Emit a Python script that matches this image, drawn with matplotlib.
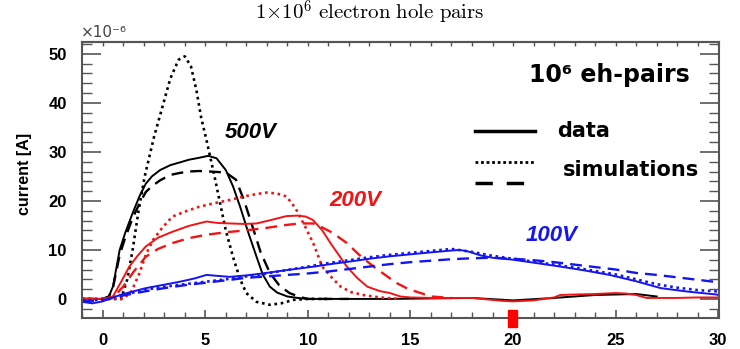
import matplotlib
matplotlib.use("Agg")
import matplotlib.pyplot as plt
from matplotlib.ticker import MultipleLocator
from matplotlib.patches import Rectangle

plt.rcParams['mathtext.fontset'] = 'cm'

# ---------------- data (time in ns, current in 1e-6 A) ----------------
# 500 V
b_data_x = [-1, 0, 0.3, 0.5, 0.83, 1.1, 1.46, 1.8, 2.1, 2.4, 2.8, 3.3, 3.8, 4.2, 4.7, 5.15, 5.55,
            6.0, 6.35, 6.7, 7.1, 7.5, 7.8, 8.15, 8.5, 9.0, 9.5, 10, 12, 14, 16, 18, 20, 22, 24, 26, 27]
b_data_y = [0, 0, 0.5, 2.5, 10, 13.5, 17.5, 21, 23.5, 25, 26.3, 27.3, 27.9, 28.4, 28.8, 29.2, 28.7,
            26.3, 23, 18.8, 13.5, 8.6, 5, 2.5, 1.3, 0.5, 0.2, 0, 0, 0, 0.1, 0.2, -0.3, 0.2, 0.8, 1.0, 0.5]
b_dash_x = [-1, 0, 0.3, 0.5, 0.83, 1.1, 1.46, 1.8, 2.1, 2.4, 2.8, 3.3, 3.75, 4.2, 4.7, 5.2, 5.6,
            6.0, 6.5, 6.9, 7.3, 7.7, 8.15, 8.6, 9.1, 9.6, 10, 11, 12]
b_dash_y = [0, 0, 0.5, 2.2, 9, 12.5, 16.5, 19.5, 21.8, 23, 24.2, 25.3, 25.7, 26, 26.1, 26, 25.9,
            25.8, 24.3, 20, 14.8, 9.5, 5.3, 2.8, 1.2, 0.4, 0, 0, 0]
b_sim_x = [-1, 0, 0.5, 0.9, 1.2, 1.46, 1.75, 2.05, 2.5, 2.9, 3.3, 3.7, 4.0, 4.3, 4.57, 4.8, 5.06,
           5.4, 5.7, 6.0, 6.35, 6.7, 7.0, 7.5, 8.15, 8.7, 9.3, 10, 11]
b_sim_y = [0, 0, 0, 0, 4, 10, 18, 25, 33, 39, 45, 48.8, 49.5, 47.5, 42.6, 37, 32.4,
           26, 20, 14, 8.6, 4, 1.2, -0.6, -1.2, -0.9, -0.2, 0, 0]

# 200 V
r_data_x = [-1, 0, 0.5, 0.9, 1.3, 1.7, 2.1, 2.7, 3.4, 4.2, 5.06, 5.6, 6.2, 6.9, 7.5, 8.2, 8.96, 9.5,
            9.9, 10.25, 10.7, 11.1, 11.5, 11.9, 12.4, 12.9, 13.5, 14, 14.5, 15, 16, 17, 18, 19, 19.5,
            20, 21, 22, 22.3, 23, 24, 25, 25.5, 26, 26.5, 27, 28, 29, 30]
r_data_y = [0, 0, 0.5, 3.5, 6.6, 8.8, 10.7, 12.5, 13.7, 14.9, 15.8, 15.5, 15.4, 15.3, 15.4, 16.1, 16.9, 17.0,
            16.8, 16.1, 14, 11.4, 9, 6.6, 4.3, 2.5, 1.6, 1.2, 0.5, 0.3, 0.2, 0.2, 0.2, -0.2, -0.4,
            -0.5, -0.3, 0.3, 0.8, 0.9, 1.0, 1.2, 1.1, 0.8, 0.2, 0.2, 0.2, 0.3, 0.3]
r_dash_x = [-1, 0, 0.5, 1.0, 1.5, 2.1, 2.7, 3.4, 4.2, 5.06, 6, 7, 8, 8.96, 9.6, 10.25, 10.6, 11.2,
            11.9, 12.5, 13.2, 13.8, 14.3, 14.9, 15.5, 16, 17]
r_dash_y = [0, 0, 0.3, 2.5, 5.5, 8.6, 10.2, 11.4, 12.4, 13.1, 13.6, 14, 14.5, 15.1, 15.4, 15.4, 14.8, 13.5,
            11.4, 9, 6.6, 4.8, 3.3, 2, 1.2, 0.5, 0.2]
r_sim_x = [-1, 0, 1.0, 1.4, 1.8, 2.1, 2.45, 2.9, 3.4, 4.0, 4.7, 5.4, 6.2, 7.0, 7.5, 8.0, 8.5, 8.96,
           9.4, 9.9, 10.3, 10.7, 11.2, 11.6, 12.1, 12.7, 13.5, 14.5]
r_sim_y = [0, 0, 0, 1.5, 5.3, 9, 12, 14.5, 16.8, 17.8, 18.8, 19.5, 20.2, 21, 21.4, 21.7, 21.5, 20.9,
           18.5, 14.5, 11, 6.6, 4.2, 2.5, 1.4, 0.8, 0.3, 0]

# 100 V
u_data_x = [-1, -0.5, 0, 0.5, 1, 2.1, 3, 3.75, 4.5, 5.06, 5.6, 6.2, 7, 7.8, 9, 10.3, 11.1, 12, 13, 14,
            15, 16, 16.8, 17.4, 17.8, 18.4, 19, 20, 21, 22.3, 23.5, 24.7, 26, 27.2, 28.5, 29.9, 30]
u_data_y = [-0.6, -0.9, -0.5, 0.3, 1, 2.2, 2.9, 3.5, 4.2, 4.9, 4.7, 4.5, 4.8, 5.2, 5.9, 6.6, 7.1, 7.6, 8.2, 8.7,
            9.1, 9.5, 9.8, 10, 9.7, 8.9, 8.4, 8, 7.4, 6.6, 5.8, 4.9, 3.6, 2.2, 1.5, 0.9, 0.8]
u_dash_x = [-1, 0, 1, 2, 3, 4, 5, 6, 7, 8, 9, 10, 11, 12, 13, 14, 15, 16, 17, 18, 19, 20, 21, 22, 23,
            24, 25, 26, 27, 28, 29, 30]
u_dash_y = [-0.5, -0.3, 0.7, 1.5, 2.2, 2.8, 3.3, 3.8, 4.3, 4.6, 4.9, 5.2, 5.6, 6.1, 6.6, 7.1, 7.5, 7.8,
            8.1, 8.3, 8.4, 8.2, 7.9, 7.5, 7.0, 6.5, 6.0, 5.3, 4.9, 4.4, 3.9, 3.4]
u_sim_x = [-1, 0, 1, 2, 3, 4, 5, 6, 7, 8, 9, 10, 11, 12, 13, 14, 15, 16, 17, 18, 19, 20, 21, 22, 23,
           24, 25, 26, 27, 28, 29, 30]
u_sim_y = [-0.3, -0.2, 0.8, 1.8, 2.5, 3.0, 3.5, 4.0, 4.6, 5.2, 5.9, 6.6, 7.3, 7.9, 8.5, 9.0, 9.4, 9.8,
           10.2, 9.6, 8.8, 8.2, 7.6, 7.0, 6.4, 5.7, 5.0, 4.0, 3.0, 2.3, 1.8, 1.5]

x_ticks = [0, 5, 10, 15, 20, 25, 30]
y_ticks = [0, 10, 20, 30, 40, 50]
voltage_labels = ["500V", "200V", "100V"]
marker_x = 20  # red marker position on the time axis

# ---------------- figure ----------------
fig = plt.figure(figsize=(7.4, 3.49), dpi=100)
ax = fig.add_axes([0.111, 0.089, 0.861, 0.791])

BLACK, RED, BLUE = '#000000', '#f01515', '#1515f0'
solid = dict(lw=1.4, ls='-')
dash = dict(lw=1.7, ls=(0, (5, 3)))
dot = dict(lw=1.9, ls=(0, (1, 1.4)))

for (dx, dy, sx, sy, tx, ty), c in [
        ((b_data_x, b_data_y, b_dash_x, b_dash_y, b_sim_x, b_sim_y), BLACK),
        ((r_data_x, r_data_y, r_dash_x, r_dash_y, r_sim_x, r_sim_y), RED),
        ((u_data_x, u_data_y, u_dash_x, u_dash_y, u_sim_x, u_sim_y), BLUE)]:
    ax.plot(dx, dy, color=c, **solid)
    ax.plot(sx, sy, color=c, **dash)
    ax.plot(tx, ty, color=c, **dot)

ax.set_xlim(-1, 30.05)
ax.set_ylim(-3.88, 52.45)

ax.set_xticks(x_ticks)
ax.set_yticks(y_ticks)
ax.xaxis.set_minor_locator(MultipleLocator(1))
ax.yaxis.set_minor_locator(MultipleLocator(2))

GREY = '#555555'
for s in ax.spines.values():
    s.set_color(GREY)
    s.set_linewidth(1.5)

ax.tick_params(axis='y', which='major', direction='in', length=14, width=1.2, color=GREY,
               left=True, right=True, pad=11, labelsize=12)
ax.tick_params(axis='y', which='minor', direction='in', length=7, width=1.0, color=GREY,
               left=True, right=True)
ax.tick_params(axis='x', which='major', direction='in', length=6, width=1.2, color=GREY,
               top=False, pad=11, labelsize=12)
ax.tick_params(axis='x', which='minor', direction='in', length=4, width=1.0, color=GREY, top=False)
for lab in ax.get_xticklabels() + ax.get_yticklabels():
    lab.set_fontweight('bold')
    lab.set_fontfamily('Liberation Sans')

sec = ax.secondary_xaxis('top')
sec.set_xticks(x_ticks)
sec.xaxis.set_minor_locator(MultipleLocator(1))
sec.tick_params(axis='x', which='both', direction='in', length=3, width=1.0, color=GREY, labeltop=False)
sec.spines['top'].set_color(GREY)
sec.spines['top'].set_linewidth(1.5)

ax.set_ylabel("current [A]", fontsize=11.5, fontweight='bold', family='Liberation Sans')
ax.yaxis.set_label_coords(-0.078, 0.52)

# offset label
fig.text(0.109, 0.885, "×10⁻⁶", fontsize=11, color='#444444', ha='left', va='bottom',
         family='DejaVu Sans')

# title
fig.text(0.5, 0.962, r"$1{\times}10^{6}\ \mathrm{electron\ hole\ pairs}$", fontsize=15,
         ha='center', va='center')

# voltage labels
ax.text(7.2, 34, voltage_labels[0], color=BLACK, fontsize=16, fontweight='bold', style='italic',
        family='Liberation Sans', ha='center', va='center')
ax.text(12.3, 20, voltage_labels[1], color=RED, fontsize=16, fontweight='bold', style='italic',
        family='Liberation Sans', ha='center', va='center')
ax.text(21.9, 12.9, voltage_labels[2], color=BLUE, fontsize=16, fontweight='bold', style='italic',
        family='Liberation Sans', ha='center', va='center')

# annotation box
ax.text(0.954, 0.88, "10⁶ eh-pairs", transform=ax.transAxes, fontsize=17, fontweight='bold',
        ha='right', va='center', family='DejaVu Sans')
ax.plot([0.617, 0.711], [0.678, 0.678], transform=ax.transAxes, color='black', lw=2.5)
ax.plot([0.617, 0.711], [0.565, 0.565], transform=ax.transAxes, color='black', lw=2.0, ls=(0, (1, 1)))
ax.plot([0.617, 0.711], [0.489, 0.489], transform=ax.transAxes, color='black', lw=2.5, ls=(0, (5, 4)))
ax.text(0.746, 0.678, "data", transform=ax.transAxes, fontsize=15, fontweight='bold',
        ha='left', va='center', family='DejaVu Sans')
ax.text(0.755, 0.536, "simulations", transform=ax.transAxes, fontsize=15, fontweight='bold',
        ha='left', va='center', family='DejaVu Sans')

# red marker below axis at t = 20
ax.add_patch(Rectangle((marker_x - 0.25, -5.7), 0.45, 3.5, color='#ff0000', clip_on=False, zorder=5))

fig.savefig("out.png", dpi=100)
